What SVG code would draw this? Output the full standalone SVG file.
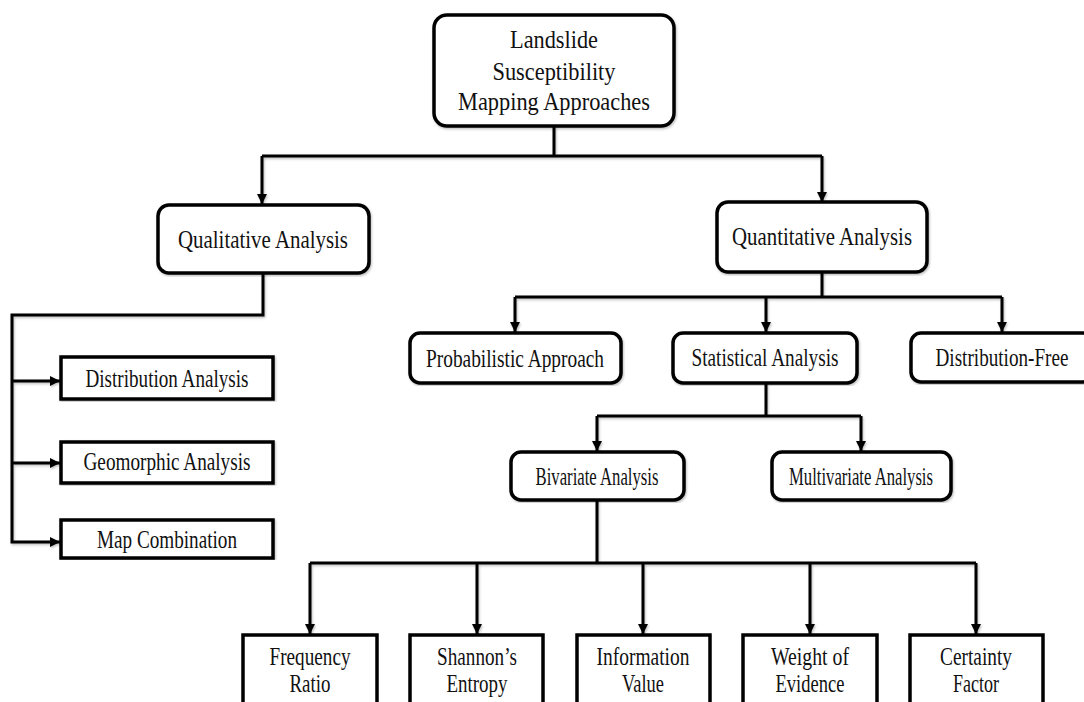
<svg xmlns="http://www.w3.org/2000/svg" width="1084" height="702" viewBox="0 0 1084 702">
<style>
.box{fill:#fff;stroke:#000;stroke-width:3.5}
.ln{fill:none;stroke:#000;stroke-width:3}
.arr{marker-end:url(#ah)}
text{font-family:"Liberation Serif","Times New Roman",serif;font-size:26px;fill:#111;text-anchor:middle}
</style>
<defs>
<marker id="ah" markerUnits="userSpaceOnUse" markerWidth="12" markerHeight="12" refX="10" refY="5.5" orient="auto">
<path d="M0,0.5 L10,5.5 L0,10.5 Z" fill="#000"/>
</marker>
<filter id="sh" x="-5%" y="-5%" width="110%" height="110%">
<feDropShadow dx="1" dy="1.5" stdDeviation="1.2" flood-color="#000" flood-opacity="0.25"/>
</filter>
</defs>
<rect width="1084" height="702" fill="#fff"/>
<g id="connectors" filter="url(#sh)">
<path class="ln" d="M554 126 V156 M262 156 H822"/>
<path class="ln arr" d="M262 156 V204"/>
<path class="ln arr" d="M822 156 V202"/>
<path class="ln arr" d="M263 273 V315 H12 V542 H60"/>
<path class="ln arr" d="M12 381 H60"/>
<path class="ln arr" d="M12 463 H60"/>
<path class="ln" d="M822 272 V297 M515 297 H1002"/>
<path class="ln arr" d="M515 297 V332"/>
<path class="ln arr" d="M766 297 V332"/>
<path class="ln arr" d="M1002 297 V332"/>
<path class="ln" d="M766 383 V416 M597 416 H861"/>
<path class="ln arr" d="M597 416 V451"/>
<path class="ln arr" d="M861 416 V451"/>
<path class="ln" d="M597 500 V563 M310 563 H976"/>
<path class="ln arr" d="M310 563 V634"/>
<path class="ln arr" d="M477 563 V634"/>
<path class="ln arr" d="M643 563 V634"/>
<path class="ln arr" d="M810 563 V634"/>
<path class="ln arr" d="M976 563 V634"/>
</g>
<g id="root"><rect class="box" x="434" y="15" width="240" height="111" rx="13" filter="url(#sh)"/>
<text x="554" y="48" textLength="88" lengthAdjust="spacingAndGlyphs">Landslide</text>
<text x="554" y="80" textLength="123" lengthAdjust="spacingAndGlyphs">Susceptibility</text>
<text x="554" y="110" textLength="192" lengthAdjust="spacingAndGlyphs">Mapping Approaches</text></g>
<g id="qualitative"><rect class="box" x="158" y="205" width="211" height="68" rx="11" filter="url(#sh)"/>
<text x="263" y="248" textLength="170" lengthAdjust="spacingAndGlyphs">Qualitative Analysis</text></g>
<g id="quantitative"><rect class="box" x="717" y="202" width="210" height="70" rx="11" filter="url(#sh)"/>
<text x="822" y="245" textLength="180" lengthAdjust="spacingAndGlyphs">Quantitative Analysis</text></g>
<g id="distribution-analysis"><rect class="box" x="61" y="357" width="212" height="42" filter="url(#sh)"/>
<text x="167" y="387" textLength="163" lengthAdjust="spacingAndGlyphs">Distribution Analysis</text></g>
<g id="geomorphic-analysis"><rect class="box" x="61" y="442" width="212" height="41" filter="url(#sh)"/>
<text x="167" y="470" textLength="167" lengthAdjust="spacingAndGlyphs">Geomorphic Analysis</text></g>
<g id="map-combination"><rect class="box" x="61" y="520" width="212" height="38" filter="url(#sh)"/>
<text x="167" y="548" textLength="140" lengthAdjust="spacingAndGlyphs">Map Combination</text></g>
<g id="probabilistic"><rect class="box" x="410" y="333" width="211" height="50" rx="10" filter="url(#sh)"/>
<text x="515" y="367" textLength="178" lengthAdjust="spacingAndGlyphs">Probabilistic Approach</text></g>
<g id="statistical"><rect class="box" x="673" y="333" width="184" height="50" rx="10" filter="url(#sh)"/>
<text x="765" y="366" textLength="147" lengthAdjust="spacingAndGlyphs">Statistical Analysis</text></g>
<g id="distribution-free"><rect class="box" x="911" y="333" width="182" height="49" rx="10" filter="url(#sh)"/>
<text x="1002" y="366" textLength="133" lengthAdjust="spacingAndGlyphs">Distribution-Free</text></g>
<g id="bivariate"><rect class="box" x="511" y="452" width="173" height="48" rx="10" filter="url(#sh)"/>
<text x="597" y="485" textLength="123" lengthAdjust="spacingAndGlyphs">Bivariate Analysis</text></g>
<g id="multivariate"><rect class="box" x="772" y="452" width="179" height="48" rx="10" filter="url(#sh)"/>
<text x="861" y="485" textLength="144" lengthAdjust="spacingAndGlyphs">Multivariate Analysis</text></g>
<g id="frequency-ratio"><rect class="box" x="243" y="635" width="134" height="80"/>
<text x="310" y="665" textLength="81" lengthAdjust="spacingAndGlyphs">Frequency</text>
<text x="310" y="692" textLength="41" lengthAdjust="spacingAndGlyphs">Ratio</text></g>
<g id="shannons-entropy"><rect class="box" x="410" y="635" width="133" height="80"/>
<text x="477" y="665" textLength="80" lengthAdjust="spacingAndGlyphs">Shannon’s</text>
<text x="477" y="692" textLength="61" lengthAdjust="spacingAndGlyphs">Entropy</text></g>
<g id="information-value"><rect class="box" x="577" y="635" width="133" height="80"/>
<text x="643" y="665" textLength="93" lengthAdjust="spacingAndGlyphs">Information</text>
<text x="643" y="692" textLength="42" lengthAdjust="spacingAndGlyphs">Value</text></g>
<g id="weight-of-evidence"><rect class="box" x="743" y="635" width="134" height="80"/>
<text x="810" y="665" textLength="78" lengthAdjust="spacingAndGlyphs">Weight of</text>
<text x="810" y="692" textLength="69" lengthAdjust="spacingAndGlyphs">Evidence</text></g>
<g id="certainty-factor"><rect class="box" x="910" y="635" width="133" height="80"/>
<text x="976" y="665" textLength="72" lengthAdjust="spacingAndGlyphs">Certainty</text>
<text x="976" y="692" textLength="46" lengthAdjust="spacingAndGlyphs">Factor</text></g>
</svg>
